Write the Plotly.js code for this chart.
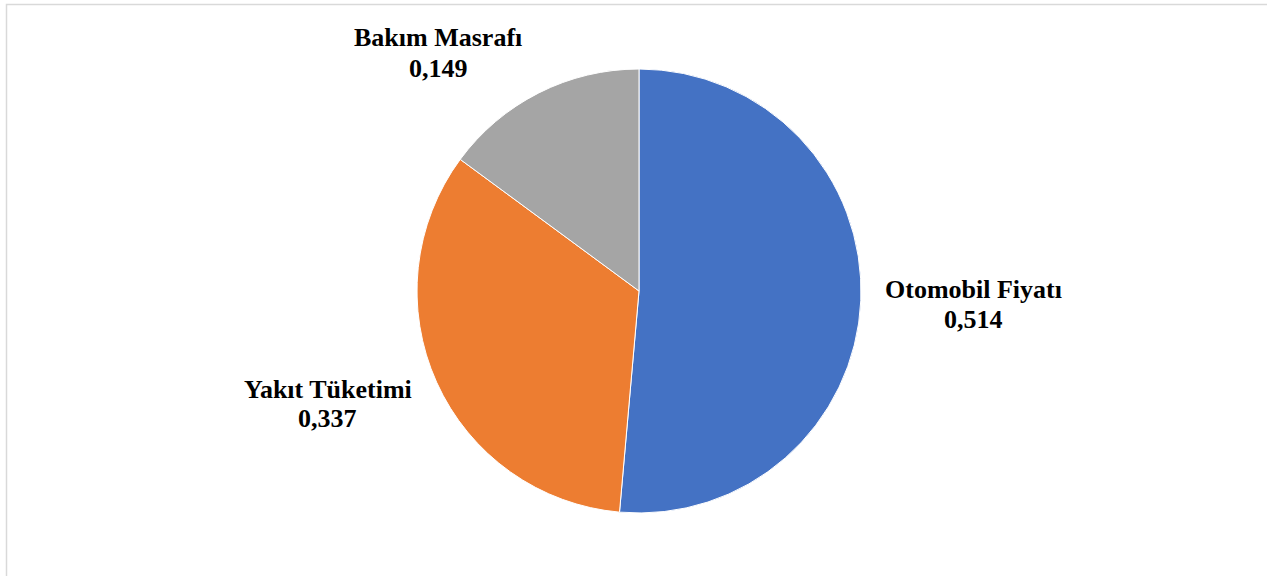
<!DOCTYPE html>
<html>
<head>
<meta charset="utf-8">
<script src="https://cdn.plot.ly/plotly-3.0.1.min.js"></script>
<style>html,body{margin:0;padding:0;background:#fff;}#chart{width:1267px;height:576px;}</style>
</head>
<body>
<div id="chart"></div>
<script>
const categories = ["Otomobil Fiyatı", "Yakıt Tüketimi", "Bakım Masrafı"];
const values = [0.514, 0.337, 0.149];
const colors = ["#4472C4", "#ED7D31", "#A5A5A5"];

// label anchor positions in pixels (name line, value line)
const labelXpx = [973, 328, 438];
const nameYpx = [289, 389, 38];
const valueYpx = [319, 418, 68];

const fmt = v => v.toFixed(3).replace('.', ',');
const W = 1267, H = 576;
const font = {family: '"Liberation Serif", "Times New Roman", serif', size: 26, color: '#000000'};

const trace = {
  type: 'pie',
  labels: categories,
  values: values,
  sort: false,
  direction: 'clockwise',
  rotation: 0,
  marker: {colors: colors, line: {color: '#ffffff', width: 1}},
  textinfo: 'none',
  hoverinfo: 'label+value',
  domain: {x: [417/W, 861/W], y: [(H-513)/H, (H-69)/H]},
  showlegend: false
};

const annotations = [];
categories.forEach((c, i) => {
  annotations.push({
    xref: 'paper', yref: 'paper', x: labelXpx[i]/W, y: 1 - nameYpx[i]/H,
    xanchor: 'center', yanchor: 'middle', text: '<b>' + c + '</b>',
    showarrow: false, font: font
  });
  annotations.push({
    xref: 'paper', yref: 'paper', x: labelXpx[i]/W, y: 1 - valueYpx[i]/H,
    xanchor: 'center', yanchor: 'middle', text: '<b>' + fmt(values[i]) + '</b>',
    showarrow: false, font: font
  });
});

const layout = {
  width: W, height: H,
  margin: {l: 0, r: 0, t: 0, b: 0},
  paper_bgcolor: '#ffffff',
  showlegend: false,
  annotations: annotations,
  shapes: [{
    type: 'rect', xref: 'paper', yref: 'paper',
    x0: 6.5/W, x1: 1.1, y0: -0.1, y1: 1 - 4.5/H,
    line: {color: '#D9D9D9', width: 1.5}, fillcolor: 'rgba(0,0,0,0)', layer: 'below'
  }]
};

Plotly.newPlot('chart', [trace], layout, {displayModeBar: false, staticPlot: true});
</script>
</body>
</html>
